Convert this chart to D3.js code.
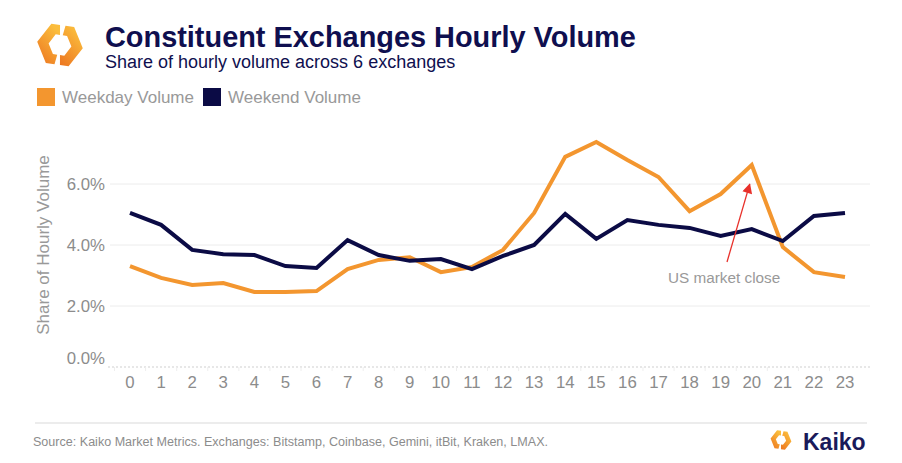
<!DOCTYPE html>
<html><head><meta charset="utf-8">
<script src="https://cdn.jsdelivr.net/npm/d3@7"></script>
<style>body{margin:0;background:#fff;}svg{display:block;font-family:"Liberation Sans",Arial,sans-serif;}</style>
</head><body>
<script>
const hours = d3.range(0, 24);
const hourLabels = hours.map(String);
const weekday = [3.31,2.92,2.69,2.75,2.46,2.46,2.49,3.21,3.51,3.60,3.11,3.28,3.84,5.05,6.89,7.38,6.79,6.23,5.11,5.67,6.62,3.93,3.11,2.95];
const weekend = [5.05,4.66,3.84,3.70,3.67,3.31,3.25,4.16,3.67,3.48,3.54,3.21,3.64,4.00,5.02,4.20,4.82,4.66,4.56,4.30,4.52,4.13,4.95,5.05];
const yTicks = [0, 2, 4, 6];
const seriesNames = ["Weekday Volume", "Weekend Volume"];
const colors = ["#f3962f", "#0b0b45"];

const W = 902, H = 463;
const svg = d3.select("body").append("svg").attr("width", W).attr("height", H);
const defs = svg.append("defs");

const x = d3.scalePoint().domain(hours).range([130, 845]);
const y = d3.scaleLinear().domain([0, 6]).range([367, 184]);

// Logo: hexagon ring split into two pieces
let logoId = 0;
function logo(g, cx, cy, R, r, rot) {
  const id = "lg" + (logoId++);
  const grad = defs.append("linearGradient").attr("id", id)
    .attr("x1", "0").attr("y1", "1").attr("x2", "0.6").attr("y2", "0");
  grad.append("stop").attr("offset", "0").attr("stop-color", "#ec7420");
  grad.append("stop").attr("offset", "1").attr("stop-color", "#fbbd3c");
  const corner = (k, rad) => {
    const a = (60 * k + rot) * Math.PI / 180;
    return [cx + rad * Math.cos(a), cy + rad * Math.sin(a)];
  };
  const at = (t, rad) => {
    const k = Math.floor(t), f = t - k;
    const p0 = corner(k, rad), p1 = corner(k + 1, rad);
    return [p0[0] + (p1[0] - p0[0]) * f, p0[1] + (p1[1] - p0[1]) * f];
  };
  const piece = (t0, t1) => {
    const pts = [];
    const ts = [t0];
    for (let k = Math.ceil(t0); k < t1; k++) ts.push(k);
    ts.push(t1);
    ts.forEach(t => pts.push(at(t, R)));
    ts.slice().reverse().forEach(t => pts.push(at(t, r)));
    return d3.line()(pts) + "Z";
  };
  [[1.62, 4.38], [4.62, 7.38]].forEach(([a, b]) => {
    g.append("path").attr("d", piece(a, b)).attr("fill", "url(#" + id + ")");
  });
}
logo(svg, 60, 45, 23, 11.5, 8);

svg.append("text").attr("x", 105).attr("y", 47).attr("fill", "#0f0f4f")
  .attr("font-size", 28.9).attr("font-weight", "bold").text("Constituent Exchanges Hourly Volume");
svg.append("text").attr("x", 105).attr("y", 68).attr("fill", "#0f0f4f")
  .attr("font-size", 18).text("Share of hourly volume across 6 exchanges");

// Legend
const legX = [37, 203];
seriesNames.forEach((n, i) => {
  svg.append("rect").attr("x", legX[i]).attr("y", 88).attr("width", 18).attr("height", 18).attr("fill", colors[i]);
  svg.append("text").attr("x", legX[i] + 25).attr("y", 103).attr("fill", "#999")
    .attr("font-size", 17).text(n);
});

// Gridlines
svg.append("g").selectAll("line").data(yTicks.filter(d => d > 0)).join("line")
  .attr("x1", 110).attr("x2", 870).attr("y1", d => y(d)).attr("y2", d => y(d))
  .attr("stroke", "#ececec").attr("stroke-width", 1);

// x axis dashed baseline
svg.append("line").attr("x1", 108).attr("x2", 870).attr("y1", y(0)).attr("y2", y(0))
  .attr("stroke", "#cfcfcf").attr("stroke-dasharray", "2,2");
svg.append("g").selectAll("line").data(hours).join("line")
  .attr("x1", d => x(d) - 15.5).attr("x2", d => x(d) - 15.5).attr("y1", y(0)).attr("y2", y(0) + 4)
  .attr("stroke", "#eee");

// Y tick labels
svg.append("g").selectAll("text").data(yTicks).join("text")
  .attr("x", 105).attr("y", d => y(d) + (d === 0 ? -9 : 0)).attr("dy", "0.35em")
  .attr("text-anchor", "end").attr("fill", "#8c8c8c").attr("font-size", 16.8)
  .text(d => d3.format(".1f")(d) + "%");

// X tick labels
svg.append("g").selectAll("text").data(hours).join("text")
  .attr("x", d => x(d)).attr("y", 388).attr("text-anchor", "middle")
  .attr("fill", "#8c8c8c").attr("font-size", 16.8).text((d, i) => hourLabels[i]);

// Y axis title
svg.append("text").attr("transform", "translate(49,245) rotate(-90)")
  .attr("text-anchor", "middle").attr("fill", "#999").attr("font-size", 17)
  .text("Share of Hourly Volume");

// Lines
const line = d3.line().x((d, i) => x(hours[i])).y(d => y(d));
[weekday, weekend].forEach((s, i) => {
  svg.append("path").attr("d", line(s)).attr("fill", "none")
    .attr("stroke", colors[i]).attr("stroke-width", 4).attr("stroke-linejoin", "miter");
});

// Annotation
defs.append("marker").attr("id", "arr").attr("viewBox", "0 0 10 10")
  .attr("refX", 9).attr("refY", 5).attr("markerWidth", 11).attr("markerHeight", 10)
  .attr("markerUnits", "userSpaceOnUse")
  .attr("orient", "auto").append("path").attr("d", "M0,0L10,5L0,10Z").attr("fill", "#e8302a");
svg.append("line").attr("x1", 727).attr("y1", 262).attr("x2", x(20) - 2).attr("y2", y(weekday[20]) + 19)
  .attr("stroke", "#e8302a").attr("stroke-width", 1.3).attr("marker-end", "url(#arr)");
svg.append("text").attr("x", 668).attr("y", 283).attr("fill", "#999").attr("font-size", 15.3)
  .text("US market close");

// Footer
svg.append("line").attr("x1", 35).attr("x2", 867).attr("y1", 423).attr("y2", 423)
  .attr("stroke", "#d9d9d9").attr("stroke-width", 1);
svg.append("text").attr("x", 33).attr("y", 446).attr("fill", "#8c8c8c").attr("font-size", 12.5)
  .attr("textLength", 515).attr("lengthAdjust", "spacingAndGlyphs")
  .text("Source: Kaiko Market Metrics. Exchanges: Bitstamp, Coinbase, Gemini, itBit, Kraken, LMAX.");
logo(svg, 781, 440, 10.5, 5.2, 8);
svg.append("text").attr("x", 803).attr("y", 450).attr("fill", "#1a1a5a").attr("font-size", 23)
  .attr("font-weight", "bold").text("Kaiko");
</script>
</body></html>
